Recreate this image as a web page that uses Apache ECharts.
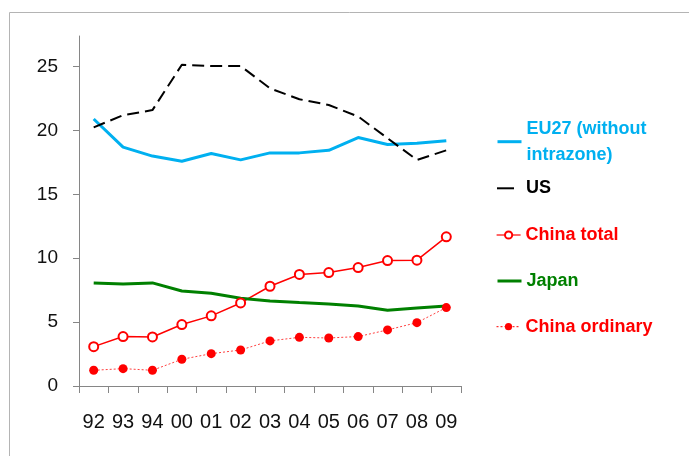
<!DOCTYPE html>
<html>
<head>
<meta charset="utf-8">
<script src="https://cdn.jsdelivr.net/npm/echarts@6/dist/echarts.min.js"></script>
<style>
  html, body { margin: 0; padding: 0; background: #fff; }
  #chart { width: 689px; height: 456px; }
</style>
</head>
<body>
<div id="chart"></div>
<script>
const categories = ['92', '93', '94', '00', '01', '02', '03', '04', '05', '06', '07', '08', '09'];
const yTicks = [0, 5, 10, 15, 20, 25];
const eu27 = [20.9, 18.7, 18.0, 17.6, 18.2, 17.7, 18.25, 18.25, 18.45, 19.45, 18.9, 19.0, 19.2];
const us = [20.25, 21.2, 21.6, 25.15, 25.05, 25.05, 23.3, 22.45, 22.0, 21.1, 19.4, 17.7, 18.45];
const chinaTotal = [3.08, 3.87, 3.84, 4.81, 5.49, 6.5, 7.81, 8.73, 8.88, 9.27, 9.82, 9.85, 11.68];
const japan = [8.07, 7.99, 8.07, 7.44, 7.26, 6.87, 6.66, 6.53, 6.42, 6.27, 5.93, 6.1, 6.27];
const chinaOrdinary = [1.23, 1.36, 1.23, 2.09, 2.53, 2.82, 3.53, 3.81, 3.76, 3.87, 4.39, 4.96, 6.14];

const FONT = "'Liberation Sans', Arial, sans-serif";

function legendFor(item, top, color, extra) {
  return Object.assign({
    data: [item],
    left: 496,
    top: top,
    padding: 0,
    orient: 'vertical',
    itemWidth: 24,
    itemHeight: 9,
    selectedMode: false,
    textStyle: { color: color, fontFamily: FONT, fontWeight: 'bold', fontSize: 18, lineHeight: 26 }
  }, extra || {});
}

const chart = echarts.init(document.getElementById('chart'), null, { renderer: 'canvas' });
chart.setOption({
  animation: false,
  backgroundColor: '#fff',
  grid: { left: 79, right: 228, top: 36, bottom: 70, containLabel: false },
  xAxis: {
    type: 'category',
    data: categories,
    boundaryGap: true,
    axisLine: { lineStyle: { color: '#868686', width: 1 } },
    axisTick: { show: true, length: 7, lineStyle: { color: '#868686' } },
    axisLabel: { color: '#111', fontFamily: FONT, fontSize: 20, margin: 26, interval: 0 }
  },
  yAxis: {
    type: 'value',
    min: 0,
    max: 27.4,
    interval: 5,
    splitLine: { show: false },
    axisLine: { show: true, lineStyle: { color: '#868686', width: 1 } },
    axisTick: { show: true, length: 6, lineStyle: { color: '#868686' }, customValues: yTicks },
    axisLabel: { color: '#111', fontFamily: FONT, fontSize: 19, margin: 21, customValues: yTicks }
  },
  legend: [
    legendFor({ name: 'EU27 (without intrazone)', itemStyle: { opacity: 0 }, lineStyle: { width: 3, color: '#00B0F0' } }, 102.7, '#00B0F0', {
      formatter: 'EU27 (without\nintrazone)',
      textStyle: { color: '#00B0F0', fontFamily: FONT, fontWeight: 'bold', fontSize: 18, lineHeight: 26, padding: [26, 0, 0, 0] }
    }),
    legendFor({ name: 'US', itemStyle: { opacity: 0 }, lineStyle: { type: [17, 30], width: 2, color: '#000' } }, 175.3, '#000'),
    legendFor({ name: 'China total', lineStyle: { width: 1.2, color: '#FF0000' } }, 222, '#FF0000'),
    legendFor({ name: 'Japan', itemStyle: { opacity: 0 }, lineStyle: { width: 3, color: '#008000' } }, 268, '#008000'),
    legendFor({ name: 'China ordinary', lineStyle: { width: 1, color: '#FF0000', type: [2, 2] } }, 313.7, '#FF0000')
  ],
  graphic: [
    { type: 'line', shape: { x1: 9.5, y1: 12.5, x2: 689, y2: 12.5 }, style: { stroke: '#B4B4B4', lineWidth: 1 }, silent: true },
    { type: 'line', shape: { x1: 9.5, y1: 12.5, x2: 9.5, y2: 456 }, style: { stroke: '#B4B4B4', lineWidth: 1 }, silent: true }
  ],
  series: [
    {
      name: 'EU27 (without intrazone)', type: 'line', data: eu27,
      symbol: 'none', color: '#00B0F0',
      lineStyle: { color: '#00B0F0', width: 3 }
    },
    {
      name: 'US', type: 'line', data: us,
      symbol: 'none', color: '#000',
      lineStyle: { color: '#000', width: 2, type: [12, 6] }
    },
    {
      name: 'China total', type: 'line', data: chinaTotal,
      symbol: 'emptyCircle', symbolSize: 9, color: '#FF0000',
      itemStyle: { color: '#FF0000', borderWidth: 1 },
      lineStyle: { color: '#FF0000', width: 1.5 }
    },
    {
      name: 'Japan', type: 'line', data: japan,
      symbol: 'none', color: '#008000',
      lineStyle: { color: '#008000', width: 3 }
    },
    {
      name: 'China ordinary', type: 'line', data: chinaOrdinary,
      symbol: 'circle', symbolSize: 9, color: '#FF0000',
      itemStyle: { color: '#FF0000' },
      lineStyle: { color: '#FF4040', width: 1, type: [2, 2] }
    }
  ]
});
</script>
</body>
</html>
